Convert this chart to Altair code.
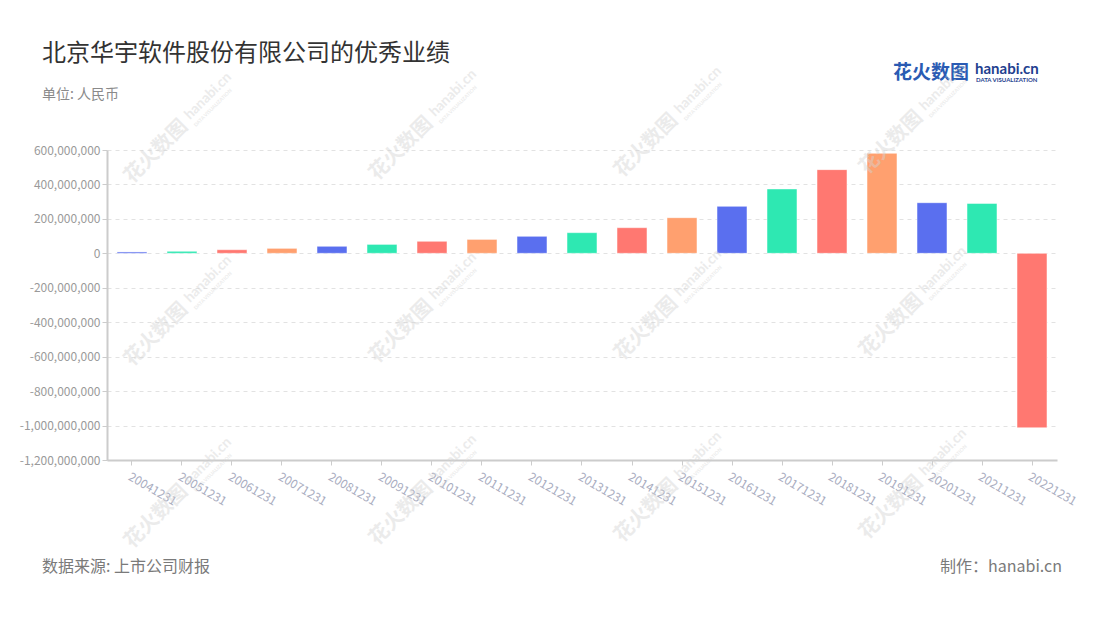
import altair as alt
import pandas as pd

dates = ["20041231", "20051231", "20061231", "20071231", "20081231", "20091231",
         "20101231", "20111231", "20121231", "20131231", "20141231", "20151231",
         "20161231", "20171231", "20181231", "20191231", "20201231", "20211231",
         "20221231"]
values = [8e6, 12e6, 21e6, 29e6, 41e6, 52e6, 70e6, 81e6, 99e6, 120e6, 149e6, 207e6,
          273e6, 374e6, 486e6, 581e6, 294e6, 290e6, -1013e6]
palette = ["#5a6fef", "#2ee8b2", "#ff7871", "#ffa06f"]
y_ticks = [600e6, 400e6, 200e6, 0, -200e6, -400e6, -600e6, -800e6, -1000e6, -1200e6]

df = pd.DataFrame({"date": dates, "value": values})
df["grp"] = [str(i % 4) for i in range(len(dates))]

FONT = "Noto Sans CJK SC"

# watermark layout (pixel offsets from the plot origin)
wm_cols = [25, 270, 515, 760]
wm_rows = [34, 217, 399]
wm = pd.DataFrame([{"wx": cx, "wy": ry - 3 * i} for i, cx in enumerate(wm_cols) for ry in wm_rows])
wm["hx"] = wm["wx"] + 58
wm["hy"] = wm["wy"] - 64
wm["dx"] = wm["wx"] + 64
wm["dy"] = wm["wy"] - 57

bars = alt.Chart(df).mark_bar(stroke="white", strokeOpacity=0.5, strokeWidth=1).encode(
    x=alt.X("date:N", sort=dates,
            scale=alt.Scale(paddingInner=0.4, paddingOuter=0.2),
            axis=alt.Axis(title=None, labelAngle=30, labelAlign="left", labelBaseline="top",
                          labelColor="#a9adbf", labelFontSize=12, labelFont=FONT,
                          labelPadding=6, domainColor="#cccccc", domainWidth=2,
                          tickColor="#cccccc", tickSize=5, grid=False)),
    y=alt.Y("value:Q", scale=alt.Scale(domain=[-1.2e9, 6e8], nice=False, zero=True),
            axis=alt.Axis(title=None, values=y_ticks,
                          labelExpr="replace(format(datum.value, ',.0f'), '\u2212', '-')",
                          labelColor="#9a9a9a", labelFontSize=12, labelFont=FONT,
                          domainColor="#cccccc", domainWidth=2, tickColor="#cccccc",
                          tickSize=5, grid=True, gridColor="#e2e2e2", gridDash=[4, 4])),
    color=alt.Color("grp:N", scale=alt.Scale(domain=["0", "1", "2", "3"], range=palette),
                    legend=None),
)

WM_COLOR = "#d4d4d4"
WM_OP = 0.45
wm_base = alt.Chart(wm)
wm_cn = wm_base.mark_text(text="花火数图", angle=315, align="left", baseline="alphabetic",
                          fontSize=20, fontWeight="bold", font=FONT, color=WM_COLOR,
                          opacity=WM_OP).encode(
    x=alt.X("wx:Q", scale=None), y=alt.Y("wy:Q", scale=None))
wm_en = wm_base.mark_text(text="hanabi.cn", angle=315, align="left", baseline="alphabetic",
                          fontSize=14, fontWeight="bold", font="Lato", color=WM_COLOR,
                          opacity=WM_OP).encode(
    x=alt.X("hx:Q", scale=None), y=alt.Y("hy:Q", scale=None))
wm_dv = wm_base.mark_text(text="DATA VISUALIZATION", angle=315, align="left", baseline="alphabetic",
                          fontSize=5, fontWeight="bold", font="Lato", color=WM_COLOR,
                          opacity=WM_OP).encode(
    x=alt.X("dx:Q", scale=None), y=alt.Y("dy:Q", scale=None))


def txt(s, x, y, size, color, align="left", weight="normal", font=FONT):
    return alt.Chart(alt.Data(values=[{}])).mark_text(
        text=s, align=align, baseline="middle", fontSize=size, color=color,
        fontWeight=weight, font=font
    ).encode(x=alt.value(x), y=alt.value(y))


layers = [
    bars,
    txt("北京华宇软件股份有限公司的优秀业绩", -65, -96, 24, "#333333"),
    txt("单位: 人民币", -65, -55, 14, "#8a8a8a"),
    txt("数据来源: 上市公司财报", -65, 417, 16, "#7a7a7a"),
    txt("制作：hanabi.cn", 955, 417, 16, "#7a7a7a", align="right"),
    txt("花火数图", 786, -77, 19, "#2a5bb3", weight="bold"),
    txt("hanabi.cn", 868, -81, 15, "#1f3f8f", weight="bold", font="Lato"),
    txt("DATA VISUALIZATION", 869, -70, 6, "#1f3f8f", weight="bold", font="Lato"),
    wm_cn, wm_en, wm_dv,
]

chart = alt.layer(*layers).properties(
    width=950, height=310,
    padding={"left": 99, "top": 142, "right": 35, "bottom": 150},
    autosize=alt.AutoSizeParams(type="none"),
    view=alt.ViewBackground(strokeOpacity=0, strokeWidth=0),
).configure_view(strokeWidth=0, strokeOpacity=0).configure(background="white")

chart.save("out.html", embed_options={"renderer": "svg", "actions": False})
